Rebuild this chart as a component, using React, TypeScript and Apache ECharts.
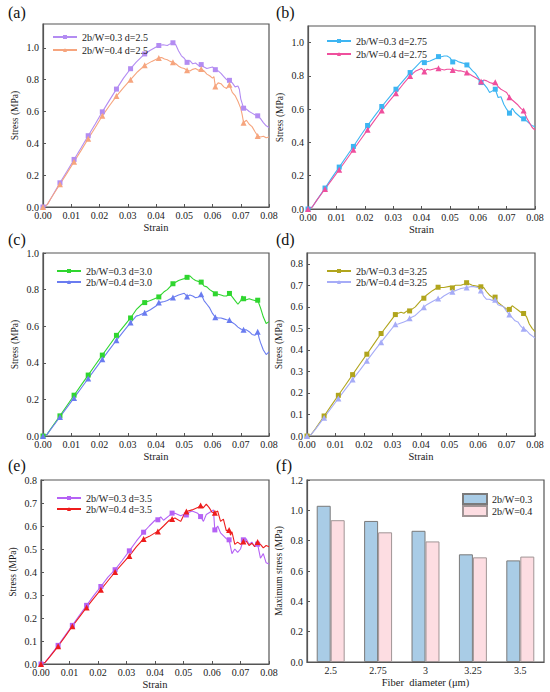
import React, { useEffect, useRef } from "react";
import * as echarts from "echarts";

const FONT = "'Liberation Serif', 'Times New Roman', serif";

const markStrain = [0, 0.006, 0.011, 0.016, 0.021, 0.026, 0.031, 0.036, 0.041, 0.046, 0.051, 0.056, 0.061, 0.066, 0.071, 0.076];

// (a) d=2.5
const a03Marks = [0, 0.152, 0.299, 0.448, 0.598, 0.741, 0.869, 0.962, 1.015, 1.032, 0.909, 0.895, 0.863, 0.796, 0.621, 0.573];
const a03Line = [[0.0015,0.015],[0.003,0.06],[0.0085,0.225],[0.0135,0.372],[0.0185,0.522],[0.0235,0.67],[0.0285,0.81],[0.033,0.91],[0.038,0.985],[0.0425,1.02],[0.044,1.015],[0.045,1.025],[0.047,1.02],[0.048,0.98],[0.049,0.95],[0.05,0.935],[0.052,0.92],[0.053,0.9],[0.054,0.905],[0.055,0.89],[0.057,0.88],[0.058,0.87],[0.059,0.875],[0.06,0.88],[0.062,0.855],[0.063,0.84],[0.064,0.82],[0.065,0.8],[0.067,0.78],[0.068,0.755],[0.069,0.76],[0.0695,0.74],[0.07,0.68],[0.072,0.615],[0.073,0.6],[0.074,0.59],[0.075,0.58],[0.077,0.555],[0.078,0.53],[0.079,0.51],[0.08,0.5]];
const a04Marks = [0, 0.143, 0.284, 0.429, 0.573, 0.697, 0.8, 0.89, 0.937, 0.91, 0.859, 0.867, 0.758, 0.768, 0.53, 0.446];
const a04Line = [[0.0015,0.015],[0.003,0.06],[0.0085,0.213],[0.0135,0.356],[0.0185,0.5],[0.0235,0.636],[0.0285,0.75],[0.0335,0.85],[0.0385,0.915],[0.042,0.94],[0.043,0.93],[0.044,0.925],[0.045,0.915],[0.047,0.9],[0.048,0.885],[0.049,0.875],[0.05,0.87],[0.052,0.855],[0.053,0.865],[0.054,0.87],[0.055,0.86],[0.057,0.855],[0.058,0.835],[0.059,0.825],[0.06,0.81],[0.0605,0.82],[0.062,0.78],[0.063,0.775],[0.064,0.755],[0.065,0.745],[0.0655,0.76],[0.067,0.72],[0.068,0.7],[0.069,0.665],[0.07,0.62],[0.0705,0.58],[0.072,0.545],[0.073,0.52],[0.074,0.505],[0.075,0.475],[0.077,0.44],[0.078,0.445],[0.079,0.435],[0.08,0.44]];

// (b) d=2.75
const b03Marks = [0, 0.126, 0.252, 0.376, 0.502, 0.616, 0.72, 0.82, 0.88, 0.916, 0.884, 0.866, 0.76, 0.72, 0.576, 0.542];
const b03Line = [[0.0015,0.012],[0.003,0.05],[0.0085,0.19],[0.0135,0.314],[0.0185,0.44],[0.0235,0.56],[0.0285,0.668],[0.0335,0.77],[0.038,0.855],[0.04,0.89],[0.042,0.885],[0.043,0.89],[0.045,0.905],[0.047,0.915],[0.048,0.92],[0.049,0.92],[0.05,0.91],[0.052,0.895],[0.053,0.885],[0.054,0.88],[0.055,0.875],[0.057,0.85],[0.058,0.83],[0.059,0.815],[0.06,0.79],[0.062,0.75],[0.063,0.73],[0.064,0.7],[0.065,0.71],[0.067,0.67],[0.068,0.675],[0.069,0.63],[0.07,0.6],[0.072,0.605],[0.073,0.58],[0.074,0.565],[0.075,0.55],[0.077,0.53],[0.078,0.515],[0.079,0.5],[0.08,0.495]];
const b04Marks = [0, 0.12, 0.236, 0.356, 0.476, 0.592, 0.696, 0.8, 0.826, 0.846, 0.836, 0.82, 0.766, 0.762, 0.672, 0.592];
const b04Line = [[0.0015,0.012],[0.003,0.05],[0.0085,0.178],[0.0135,0.296],[0.0185,0.416],[0.0235,0.534],[0.0285,0.645],[0.0335,0.75],[0.038,0.83],[0.04,0.845],[0.042,0.84],[0.043,0.835],[0.044,0.84],[0.045,0.845],[0.047,0.84],[0.048,0.835],[0.049,0.84],[0.05,0.84],[0.052,0.835],[0.053,0.83],[0.054,0.83],[0.055,0.825],[0.057,0.81],[0.058,0.8],[0.059,0.79],[0.06,0.78],[0.062,0.775],[0.063,0.77],[0.064,0.76],[0.065,0.755],[0.067,0.735],[0.068,0.72],[0.069,0.71],[0.07,0.7],[0.072,0.655],[0.073,0.64],[0.074,0.625],[0.075,0.605],[0.077,0.55],[0.078,0.52],[0.079,0.49],[0.08,0.475]];

// (c) d=3.0
const c03Marks = [0, 0.11, 0.223, 0.333, 0.442, 0.55, 0.645, 0.729, 0.76, 0.832, 0.867, 0.841, 0.777, 0.779, 0.75, 0.742];
const c03Line = [[0.0015,0.01],[0.003,0.045],[0.0085,0.167],[0.0135,0.278],[0.0185,0.388],[0.0235,0.496],[0.0285,0.598],[0.033,0.69],[0.035,0.72],[0.038,0.74],[0.0395,0.75],[0.043,0.79],[0.044,0.8],[0.048,0.85],[0.049,0.855],[0.05,0.86],[0.052,0.875],[0.053,0.86],[0.054,0.85],[0.055,0.845],[0.057,0.82],[0.058,0.815],[0.059,0.8],[0.06,0.79],[0.062,0.775],[0.063,0.77],[0.064,0.765],[0.065,0.765],[0.067,0.76],[0.068,0.74],[0.069,0.72],[0.07,0.74],[0.0705,0.765],[0.072,0.745],[0.073,0.75],[0.074,0.745],[0.075,0.74],[0.077,0.7],[0.078,0.65],[0.079,0.615],[0.08,0.625]];
const c04Marks = [0, 0.104, 0.208, 0.314, 0.42, 0.523, 0.62, 0.673, 0.729, 0.757, 0.762, 0.775, 0.649, 0.634, 0.58, 0.57];
const c04Line = [[0.0015,0.01],[0.003,0.042],[0.0085,0.156],[0.0135,0.261],[0.0185,0.367],[0.0235,0.472],[0.0285,0.572],[0.033,0.655],[0.034,0.66],[0.038,0.69],[0.04,0.71],[0.043,0.735],[0.044,0.74],[0.048,0.77],[0.05,0.78],[0.052,0.77],[0.053,0.765],[0.054,0.755],[0.055,0.76],[0.057,0.74],[0.058,0.72],[0.059,0.7],[0.06,0.67],[0.062,0.645],[0.063,0.645],[0.064,0.64],[0.065,0.635],[0.067,0.62],[0.068,0.61],[0.069,0.595],[0.07,0.585],[0.072,0.58],[0.073,0.57],[0.074,0.555],[0.075,0.55],[0.0765,0.535],[0.077,0.51],[0.078,0.47],[0.079,0.445],[0.08,0.46]];

// (d) d=3.25
const d03Marks = [0, 0.093, 0.189, 0.285, 0.38, 0.476, 0.564, 0.581, 0.64, 0.691, 0.688, 0.712, 0.693, 0.645, 0.588, 0.569];
const d03Line = [[0.0015,0.008],[0.003,0.035],[0.0085,0.141],[0.0135,0.237],[0.0185,0.333],[0.0235,0.428],[0.0285,0.52],[0.032,0.57],[0.033,0.575],[0.034,0.57],[0.035,0.58],[0.038,0.6],[0.04,0.63],[0.042,0.655],[0.044,0.675],[0.047,0.69],[0.048,0.69],[0.05,0.695],[0.052,0.7],[0.054,0.7],[0.055,0.705],[0.058,0.7],[0.06,0.695],[0.062,0.69],[0.063,0.67],[0.064,0.655],[0.065,0.645],[0.067,0.62],[0.068,0.61],[0.069,0.6],[0.07,0.59],[0.072,0.605],[0.073,0.595],[0.074,0.585],[0.075,0.575],[0.077,0.555],[0.078,0.52],[0.079,0.5],[0.08,0.485]];
const d04Marks = [0, 0.085, 0.174, 0.262, 0.349, 0.436, 0.519, 0.547, 0.598, 0.639, 0.67, 0.69, 0.676, 0.633, 0.564, 0.498];
const d04Line = [[0.0015,0.008],[0.003,0.032],[0.0085,0.13],[0.0135,0.218],[0.0185,0.305],[0.0235,0.393],[0.0285,0.478],[0.032,0.52],[0.034,0.53],[0.035,0.535],[0.038,0.56],[0.04,0.585],[0.042,0.61],[0.044,0.625],[0.047,0.64],[0.048,0.65],[0.05,0.665],[0.052,0.675],[0.054,0.685],[0.058,0.695],[0.06,0.69],[0.062,0.65],[0.063,0.635],[0.064,0.635],[0.065,0.63],[0.067,0.61],[0.068,0.605],[0.069,0.6],[0.07,0.58],[0.072,0.55],[0.073,0.535],[0.074,0.53],[0.075,0.51],[0.077,0.49],[0.078,0.475],[0.079,0.465],[0.08,0.455]];

// (e) d=3.5
const e03Marks = [0, 0.081, 0.168, 0.255, 0.337, 0.41, 0.492, 0.573, 0.627, 0.656, 0.648, 0.641, 0.583, 0.54, 0.54, 0.521];
const e03Line = [[0.0015,0.008],[0.003,0.032],[0.0085,0.125],[0.0135,0.212],[0.0185,0.297],[0.0235,0.378],[0.0285,0.45],[0.0335,0.535],[0.038,0.6],[0.04,0.625],[0.042,0.64],[0.043,0.625],[0.045,0.645],[0.047,0.655],[0.049,0.645],[0.05,0.65],[0.052,0.66],[0.053,0.665],[0.055,0.655],[0.057,0.62],[0.058,0.65],[0.06,0.665],[0.0605,0.67],[0.061,0.58],[0.062,0.6],[0.063,0.57],[0.065,0.545],[0.067,0.48],[0.068,0.5],[0.069,0.485],[0.07,0.5],[0.072,0.545],[0.073,0.52],[0.074,0.53],[0.075,0.51],[0.077,0.46],[0.078,0.48],[0.079,0.44],[0.08,0.435]];
const e04Marks = [0, 0.077, 0.164, 0.246, 0.323, 0.4, 0.47, 0.544, 0.576, 0.63, 0.663, 0.689, 0.658, 0.583, 0.533, 0.53];
const e04Line = [[0.0015,0.008],[0.003,0.03],[0.0085,0.12],[0.0135,0.205],[0.0185,0.285],[0.0235,0.362],[0.0285,0.435],[0.0335,0.51],[0.038,0.555],[0.04,0.57],[0.043,0.6],[0.045,0.625],[0.047,0.635],[0.049,0.62],[0.05,0.645],[0.053,0.67],[0.055,0.68],[0.057,0.68],[0.058,0.695],[0.059,0.68],[0.06,0.66],[0.062,0.665],[0.063,0.62],[0.064,0.63],[0.065,0.58],[0.0665,0.56],[0.067,0.575],[0.068,0.52],[0.069,0.53],[0.07,0.52],[0.072,0.535],[0.073,0.515],[0.074,0.525],[0.075,0.51],[0.077,0.52],[0.078,0.505],[0.079,0.515],[0.08,0.51]];

// (f) max stress
const fiberCats = ["2.5", "2.75", "3", "3.25", "3.5"];
const bar03 = [1.03, 0.93, 0.865, 0.71, 0.67];
const bar04 = [0.935, 0.855, 0.795, 0.69, 0.695];

const panels = [
  { label: "(a)", labelTop: 2, grid: { left: 43, top: 24, width: 226, height: 183 }, ymax: 1.15, yint: 0.2, showMax: false,
    legend: { left: 47, top: 27, gap: 3 },
    s: [
      { name: "2b/W=0.3 d=2.5", color: "#b38cf2", sym: "rect", line: a03Line, marks: a03Marks },
      { name: "2b/W=0.4 d=2.5", color: "#f6a57e", sym: "triangle", line: a04Line, marks: a04Marks },
    ] },
  { label: "(b)", labelTop: 2, grid: { left: 308, top: 26, width: 227, height: 183 }, ymax: 1.1, yint: 0.2, showMax: false,
    legend: { left: 321, top: 31, gap: 3 },
    s: [
      { name: "2b/W=0.3 d=2.75", color: "#3db5f2", sym: "rect", line: b03Line, marks: b03Marks },
      { name: "2b/W=0.4 d=2.75", color: "#ef4f9d", sym: "triangle", line: b04Line, marks: b04Marks },
    ] },
  { label: "(c)", labelTop: 229, grid: { left: 43, top: 253, width: 226, height: 183 }, ymax: 1.0, yint: 0.2, showMax: true,
    legend: { left: 51, top: 261, gap: 1 },
    s: [
      { name: "2b/W=0.3 d=3.0", color: "#2fd62f", sym: "rect", line: c03Line, marks: c03Marks },
      { name: "2b/W=0.4 d=3.0", color: "#6a7cf0", sym: "triangle", line: c04Line, marks: c04Marks },
    ] },
  { label: "(d)", labelTop: 229, grid: { left: 307, top: 253, width: 228, height: 183 }, ymax: 0.85, yint: 0.1, showMax: false,
    legend: { left: 321, top: 261, gap: 1 },
    s: [
      { name: "2b/W=0.3 d=3.25", color: "#b1a51d", sym: "rect", line: d03Line, marks: d03Marks },
      { name: "2b/W=0.4 d=3.25", color: "#a6acf7", sym: "triangle", line: d04Line, marks: d04Marks },
    ] },
  { label: "(e)", labelTop: 455, grid: { left: 41, top: 480, width: 228, height: 184 }, ymax: 0.8, yint: 0.1, showMax: true,
    legend: { left: 51, top: 488, gap: 1 },
    s: [
      { name: "2b/W=0.3 d=3.5", color: "#b562f5", sym: "rect", line: e03Line, marks: e03Marks },
      { name: "2b/W=0.4 d=3.5", color: "#ee1c1c", sym: "triangle", line: e04Line, marks: e04Marks },
    ] },
];

function buildData(line: number[][], marks: number[]) {
  const pts: any[] = line.map((p) => ({ value: p, symbol: "none" }));
  const m = markStrain.map((x, i) => ({ value: [x, marks[i]] }));
  return [...pts, ...m].sort((p, q) => p.value[0] - q.value[0]);
}

const axisColor = "#555";
const textColor = "#1a1a1a";

export default function App() {
  const ref = useRef<HTMLDivElement>(null);
  useEffect(() => {
    document.body.style.margin = "0";
    const chart = echarts.init(ref.current!, null, { renderer: "svg" });
    const grids: any[] = [];
    const xAxes: any[] = [];
    const yAxes: any[] = [];
    const series: any[] = [];
    const legends: any[] = [];
    const titles: any[] = [];

    const commonAxis = {
      axisLine: { show: true, lineStyle: { color: axisColor, width: 1.2 } },
      axisTick: { show: true, inside: true, length: 3, lineStyle: { color: axisColor } },
      splitLine: { show: false },
    };
    const xLabel = { fontFamily: FONT, fontSize: 10, lineHeight: 9, color: textColor, margin: 4 };
    const yLabel = { fontFamily: FONT, fontSize: 10, lineHeight: 9, color: textColor, margin: 4 };
    const titleStyle = { fontFamily: FONT, fontSize: 16, lineHeight: 16, fontWeight: "normal", color: "#111" };

    panels.forEach((p, gi) => {
      grids.push({ ...p.grid, show: true, borderColor: axisColor, borderWidth: 1.2, backgroundColor: "transparent" });
      xAxes.push({
        type: "value", gridIndex: gi, min: 0, max: 0.08, interval: 0.01,
        name: "Strain", nameLocation: "middle", nameGap: 15,
        nameTextStyle: { fontFamily: FONT, fontSize: 10.5, color: textColor },
        axisLabel: { ...xLabel, formatter: (v: number) => v.toFixed(2) },
        ...commonAxis,
      });
      yAxes.push({
        type: "value", gridIndex: gi, min: 0, max: p.ymax, interval: p.yint,
        name: "Stress (MPa)", nameLocation: "middle", nameGap: 23,
        nameTextStyle: { fontFamily: FONT, fontSize: 9.5, color: textColor },
        axisLabel: { ...yLabel, showMaxLabel: p.showMax, formatter: (v: number) => v.toFixed(1) },
        ...commonAxis,
      });
      p.s.forEach((s) => {
        series.push({
          type: "line", name: s.name, xAxisIndex: gi, yAxisIndex: gi,
          data: buildData(s.line, s.marks),
          symbol: s.sym, symbolSize: s.sym === "rect" ? 5 : 6,
          lineStyle: { color: s.color, width: 1.1 },
          itemStyle: { color: s.color },
          emphasis: { disabled: true },
        });
      });
      legends.push({
        data: p.s.map((s) => s.name), orient: "vertical", left: p.legend.left, top: p.legend.top,
        itemWidth: 24, itemHeight: 5, itemGap: p.legend.gap,
        textStyle: { fontFamily: FONT, fontSize: 10, color: textColor },
      });
      titles.push({ text: p.label, left: gi % 2 === 0 ? 6 : 274, top: p.labelTop, padding: 2, textStyle: titleStyle });
    });

    // (f) bar chart
    const fi = panels.length;
    grids.push({ left: 307, top: 480, width: 237, height: 182, show: true, borderColor: axisColor, borderWidth: 1.2 });
    xAxes.push({
      type: "category", gridIndex: fi, data: fiberCats,
      name: "Fiber  diameter (\u03bcm)", nameLocation: "middle", nameGap: 15,
      nameTextStyle: { fontFamily: FONT, fontSize: 10.5, color: textColor },
      axisLabel: { ...xLabel },
      axisLine: { show: true, lineStyle: { color: axisColor, width: 1.2 } },
      axisTick: { show: false },
    });
    yAxes.push({
      type: "value", gridIndex: fi, min: 0, max: 1.2, interval: 0.2,
      name: "Maximum stress (MPa)", nameLocation: "middle", nameGap: 23,
      nameTextStyle: { fontFamily: FONT, fontSize: 9.5, color: textColor },
      axisLabel: { ...yLabel, formatter: (v: number) => v.toFixed(1) },
      ...commonAxis,
    });
    series.push({
      type: "bar", name: "2b/W=0.3", xAxisIndex: fi, yAxisIndex: fi, data: bar03,
      barGap: "0%", barCategoryGap: "41%",
      itemStyle: { color: "#a9cce6", borderColor: "#7a7a7a", borderWidth: 1 },
      emphasis: { disabled: true },
    });
    series.push({
      type: "bar", name: "2b/W=0.4", xAxisIndex: fi, yAxisIndex: fi, data: bar04,
      barGap: "0%", barCategoryGap: "41%",
      itemStyle: { color: "#fddde2", borderColor: "#a09495", borderWidth: 1 },
      emphasis: { disabled: true },
    });
    legends.push({
      data: ["2b/W=0.3", "2b/W=0.4"], orient: "vertical", left: 457, top: 488,
      itemWidth: 24, itemHeight: 10, itemGap: 0, icon: "rect",
      textStyle: { fontFamily: FONT, fontSize: 10, color: textColor },
    });
    titles.push({ text: "(f)", left: 274, top: 455, padding: 2, textStyle: titleStyle });

    chart.setOption({
      animation: false,
      backgroundColor: "#ffffff",
      title: titles,
      grid: grids,
      xAxis: xAxes,
      yAxis: yAxes,
      legend: legends,
      series,
    });
    return () => chart.dispose();
  }, []);
  return <div ref={ref} style={{ width: 550, height: 692 }} />;
}
